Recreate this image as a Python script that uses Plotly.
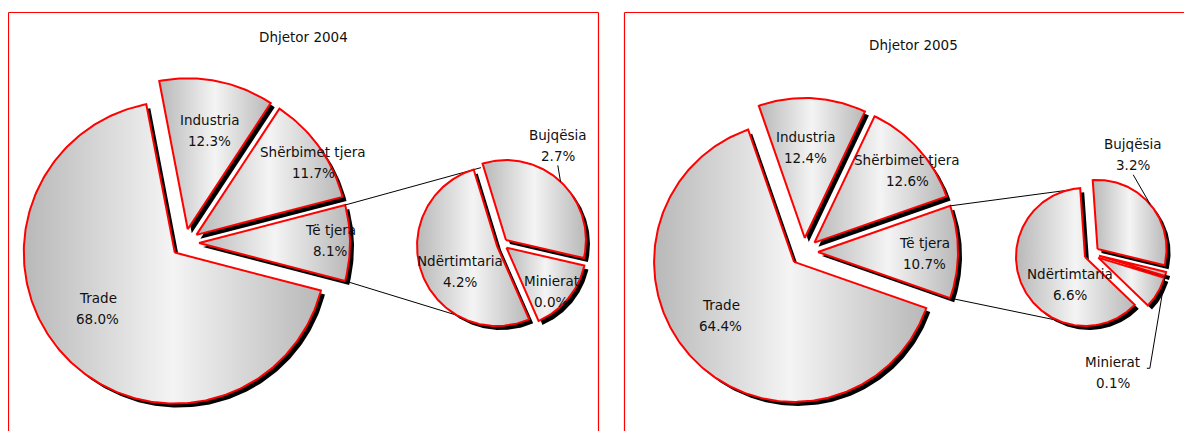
import numpy as np
import plotly.graph_objects as go

# ---------------- data ----------------
titles = ["Dhjetor 2004", "Dhjetor 2005"]
main_labels = ["Trade", "Industria", "Shërbimet tjera", "Të tjera"]
main_2004 = [68.0, 12.3, 11.7, 8.1]
main_2005 = [64.4, 12.4, 12.6, 10.7]
# breakdown of "Të tjera" (secondary pie), clockwise order; "" = unlabelled remainder
sub_labels = ["Bujqësia", "Minierat", "", "Ndërtimtaria"]
sub_2004 = [2.7, 0.0, 1.2, 4.2]
sub_2005 = [3.2, 0.1, 0.8, 6.6]

# ---------------- layout / geometry (page pixel space) ----------------
charts = [
    dict(title=titles[0], title_xy=(303, 37), main=main_2004, sub=sub_2004,
         c=(185, 243), r=151, ex=14,
         c2=(502.2, 244.1), r2=80, ex2=5.5, start2=107,
         conn=(101.6, -120),
         main_lab=[(0.63, -7), (0.67, -1.4), (0.91, -4), (0.87, 1.3)],
         sub_lab=[(1.35, 14.3, "below"), (0.79, -33.5, None), None, (0.56, 13.8, None)],
         frame=(8.5, 598.5)),
    dict(title=titles[1], title_xy=(913, 45), main=main_2005, sub=sub_2005,
         c=(804, 252), r=140, ex=14,
         c2=(1091.8, 253.8), r2=69, ex2=7.5, start2=94,
         conn=(104.8, -113),
         main_lab=[(0.65, -8.7), (0.65, 2.4), (0.84, -4), (0.76, -0.8)],
         sub_lab=[(1.46, 29.1, "below"), (1.70, -67.9, "right"), None, (0.46, 36.8, None)],
         frame=(624.5, 1300)),
]

FONT = "DejaVu Sans"
FS = 13.5
RED = "#ff0000"
SH = 4  # shadow offset
GRAD = dict(type="horizontal",
            colorscale=[[0, "#b8b8b8"], [0.5, "#f4f4f4"], [1, "#b8b8b8"]])
BODY = 8  # default page body margin of the html page


def pt(cx, cy, r, a):
    t = np.radians(a)
    return cx + r * np.cos(t), cy - r * np.sin(t)


def wedge(cx, cy, r, a0, a1):
    n = max(3, int(abs(a0 - a1) / 1.0) + 3)
    th = np.radians(np.linspace(a0, a1, n))
    xs = np.concatenate([[cx], cx + r * np.cos(th), [cx]])
    ys = np.concatenate([[cy], cy - r * np.sin(th), [cy]])
    return xs, ys


def slices(values, start, cx, cy, r, ex):
    """clockwise slices from start angle"""
    tot = sum(values)
    out = []
    a = start
    for v in values:
        span = 360.0 * v / tot
        a1 = a - span
        mid = (a + a1) / 2
        ccx, ccy = pt(cx, cy, ex, mid)
        out.append((a, a1, mid, (ccx, ccy), span))
        a = a1
    return out


fig = go.Figure()
annotations = []
shapes = []


def add_pie(geo, r):
    for a0, a1, mid, (ccx, ccy), span in geo:
        if span <= 0:
            continue
        xs, ys = wedge(ccx + SH, ccy + SH, r, a0, a1)
        fig.add_trace(go.Scatter(x=xs, y=ys, mode="lines", fill="toself",
                                 fillcolor="black", line=dict(width=0, color="black"),
                                 hoverinfo="skip", showlegend=False))
    for a0, a1, mid, (ccx, ccy), span in geo:
        if span <= 0:
            continue
        xs, ys = wedge(ccx, ccy, r, a0, a1)
        fig.add_trace(go.Scatter(x=xs, y=ys, mode="lines", fill="toself",
                                 fillgradient=GRAD, fillcolor="#e6e6e6",
                                 line=dict(width=2, color=RED),
                                 hoverinfo="skip", showlegend=False))


def add_label(x, y, name, val):
    annotations.append(dict(x=x, y=y - 10.5, text=name, showarrow=False,
                            xref="x", yref="y", font=dict(family=FONT, size=FS, color="#111")))
    annotations.append(dict(x=x, y=y + 10.5, text=f"{val:.1f}%", showarrow=False,
                            xref="x", yref="y", font=dict(family=FONT, size=FS, color="#111")))


def line(xs, ys, w=1):
    fig.add_trace(go.Scatter(x=xs, y=ys, mode="lines", line=dict(color="black", width=w),
                             hoverinfo="skip", showlegend=False))


for ch in charts:
    cx, cy = ch["c"]
    main = ch["main"]
    half = 360.0 * main[-1] / sum(main) / 2
    geo = slices(main, -half, cx, cy, ch["r"], ch["ex"])
    add_pie(geo, ch["r"])

    c2x, c2y = ch["c2"]
    geo2 = slices(ch["sub"], ch["start2"], c2x, c2y, ch["r2"], ch["ex2"])

    # connector lines: corners of "other" slice -> secondary pie
    oa0, oa1, omid, (ocx, ocy), _ = geo[-1]
    nd = geo2[-1][3]
    p_top = pt(ocx, ocy, ch["r"], oa0)
    p_bot = pt(ocx, ocy, ch["r"], oa1)
    q_top = pt(nd[0], nd[1], ch["r2"], ch["conn"][0])
    q_bot = pt(nd[0], nd[1], ch["r2"], ch["conn"][1])
    line([p_top[0], q_top[0]], [p_top[1], q_top[1]])
    line([p_bot[0], q_bot[0]], [p_bot[1], q_bot[1]])

    add_pie(geo2, ch["r2"])

    for (a0, a1, mid, (ccx, ccy), span), (rf, dt), name, v in zip(geo, ch["main_lab"], main_labels, main):
        lx, ly = pt(ccx, ccy, rf * ch["r"], mid + dt)
        add_label(lx, ly, name, v)

    for (a0, a1, mid, (ccx, ccy), span), spec, name, v in zip(geo2, ch["sub_lab"], sub_labels, ch["sub"]):
        if spec is None or not name:
            continue
        rf, dt, leader = spec
        lx, ly = pt(ccx, ccy, rf * ch["r2"], mid + dt)
        add_label(lx, ly, name, v)
        ex_, ey_ = pt(ccx, ccy, ch["r2"], mid)
        if leader == "below":
            line([lx, ex_], [ly + 20, ey_])
        elif leader == "right":
            line([lx + 34, lx + 37, ex_], [ly - 4, ly - 4, ey_])

    annotations.append(dict(x=ch["title_xy"][0], y=ch["title_xy"][1], text=ch["title"],
                            showarrow=False, xref="x", yref="y",
                            font=dict(family=FONT, size=FS, color="#111")))
    fx0, fx1 = ch["frame"]
    for x0, y0, x1, y1 in [(fx0, 12.5, fx0, 450), (fx0, 12.5, fx1, 12.5), (fx1, 12.5, fx1, 450)]:
        shapes.append(dict(type="line", xref="x", yref="y", x0=x0, y0=y0, x1=x1, y1=y1,
                           line=dict(color=RED, width=1.2), layer="above"))

fig.update_layout(
    width=1192 - BODY, height=431 - BODY, margin=dict(l=0, r=0, t=0, b=0),
    paper_bgcolor="white", plot_bgcolor="white",
    xaxis=dict(range=[BODY, 1192], visible=False, fixedrange=True),
    yaxis=dict(range=[431, BODY], visible=False, fixedrange=True),
    annotations=annotations, shapes=shapes, showlegend=False,
)

fig.write_html("out.html")
